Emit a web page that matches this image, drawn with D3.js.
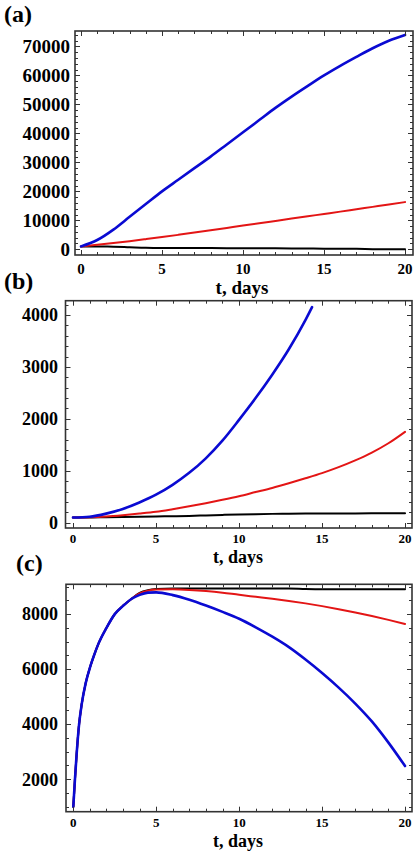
<!DOCTYPE html>
<html><head><meta charset="utf-8">
<script src="https://cdn.jsdelivr.net/npm/d3@7"></script>
<style>
html,body{margin:0;padding:0;background:#fff;}
svg text{font-family:"Liberation Serif","Times New Roman",serif;font-weight:bold;fill:#000;}
</style></head>
<body>
<svg id="chart" width="417" height="853"></svg>
<script>
// ---------- data ----------
const xTicks = [0, 5, 10, 15, 20];

const tA = [0,1,2,3,4,5,6,7,8,9,10,11,12,13,14,15,16,17,18,19,20];
const blueA = [1000,3200,6800,11200,15600,20000,24000,28000,32000,36200,40400,44600,48800,52700,56400,60000,63300,66400,69400,72000,74000];
const redA = [1000,1550,2150,2800,3500,4220,4980,5760,6560,7370,8180,9000,9800,10600,11400,12200,13000,13820,14640,15460,16300];
const blackA = [1000,950,900,700,500,450,450,450,420,400,380,350,330,300,250,200,180,150,50,0,0];
const yTicksA = [0,10000,20000,30000,40000,50000,60000,70000];

const tB = [0,1,2,3,4,5,6,7,8,9,10,11,12,13,14,15,16,17,18,19,20];
const tBlueB = [0,1,2,3,4,5,6,7,8,9,10,11,12,13,14,14.4];
const blueB = [100,115,175,265,390,540,730,960,1240,1580,1980,2400,2850,3340,3900,4150];
const redB = [100,105,120,145,175,210,260,315,375,440,510,590,670,760,855,955,1070,1200,1350,1530,1750];
const blackB = [100,100,105,110,115,120,125,130,140,150,160,165,170,172,175,177,178,179,180,180,180];
const yTicksB = [0,1000,2000,3000,4000];

const tC = [0,0.1,0.2,0.35,0.5,0.75,1,1.25,1.5,2,2.5,3,3.5,4,4.5,5,6,7,8,9,10,11,12,13,14,15,16,17,18,19,20];
const blueC = [1000,2000,2900,4000,4700,5500,6050,6500,6900,7500,8000,8300,8550,8700,8780,8790,8690,8520,8310,8080,7830,7520,7180,6800,6350,5860,5330,4750,4100,3330,2480];
const redC = [1000,2000,2900,4000,4700,5500,6050,6500,6900,7500,8000,8300,8550,8750,8850,8890,8900,8880,8840,8780,8700,8630,8560,8480,8390,8290,8180,8060,7930,7790,7640];
const blackC = [1000,2000,2900,4000,4700,5500,6050,6500,6900,7500,8000,8300,8550,8770,8870,8910,8930,8930,8930,8930,8930,8930,8930,8930,8910,8900,8900,8900,8900,8900,8900];
const yTicksC = [2000,4000,6000,8000];

const panelLabels = ["(a)", "(b)", "(c)"];
const xTitle = "t, days";

// ---------- drawing ----------
const svg = d3.select("#chart");
const BLUE = "#0a0ad2", RED = "#e31515", BLACK = "#000";

function panel(cfg) {
  const x = d3.scaleLinear().domain(cfg.xd).range([cfg.x0, cfg.x1]);
  const y = d3.scaleLinear().domain(cfg.yd).range([cfg.y1, cfg.y0]);
  const g = svg.append("g");
  const id = "clip" + cfg.key;
  svg.append("clipPath").attr("id", id).append("rect")
    .attr("x", cfg.x0).attr("y", cfg.y0).attr("width", cfg.x1 - cfg.x0).attr("height", cfg.y1 - cfg.y0);

  const line = d3.line().x(d => x(d[0])).y(d => y(d[1])).curve(d3.curveMonotoneX);
  const lg = g.append("g").attr("clip-path", `url(#${id})`);
  cfg.series.forEach(s => {
    lg.append("path").datum(s.t.map((t, i) => [t, s.v[i]]))
      .attr("d", line).attr("fill", "none").attr("stroke", s.c)
      .attr("stroke-width", s.w).attr("stroke-linejoin", "round").attr("stroke-linecap", "round");
  });

  // ticks (inside, all four sides)
  const tk = g.append("g").attr("stroke", "#333").attr("stroke-width", 1);
  const xMinor = d3.range(Math.ceil(cfg.xd[0]), Math.floor(cfg.xd[1]) + 1);
  xMinor.forEach(v => {
    const len = v % 5 === 0 ? 5 : 3;
    const px = Math.round(x(v)) + 0.5;
    tk.append("line").attr("x1", px).attr("x2", px).attr("y1", cfg.y1).attr("y2", cfg.y1 - len);
    tk.append("line").attr("x1", px).attr("x2", px).attr("y1", cfg.y0).attr("y2", cfg.y0 + len);
  });
  const yMinor = d3.range(Math.ceil(cfg.yd[0] / cfg.yMinor) * cfg.yMinor, cfg.yd[1], cfg.yMinor);
  yMinor.forEach(v => {
    const major = cfg.yt.includes(v) || Math.abs(v % cfg.yMajor) < 1e-6;
    const len = major ? 5 : 3;
    const py = Math.round(y(v)) + 0.5;
    tk.append("line").attr("y1", py).attr("y2", py).attr("x1", cfg.x0).attr("x2", cfg.x0 + len);
    tk.append("line").attr("y1", py).attr("y2", py).attr("x1", cfg.x1).attr("x2", cfg.x1 - len);
  });

  g.append("rect").attr("x", cfg.x0).attr("y", cfg.y0)
    .attr("width", cfg.x1 - cfg.x0).attr("height", cfg.y1 - cfg.y0)
    .attr("fill", "none").attr("stroke", "#333").attr("stroke-width", 1.6);

  // y labels
  g.selectAll(null).data(cfg.yt).join("text")
    .attr("x", cfg.yLabX).attr("y", d => y(d)).attr("dy", "0.35em")
    .attr("text-anchor", "end").style("font-size", cfg.yFont + "px").text(d => d);
  // x labels
  g.selectAll(null).data(xTicks).join("text")
    .attr("x", d => x(d)).attr("y", cfg.xLabY)
    .attr("text-anchor", "middle").style("font-size", cfg.xFont + "px").text(d => d);
  g.append("text").attr("x", cfg.titleX).attr("y", cfg.titleY)
    .attr("text-anchor", "middle").style("font-size", cfg.titleFont + "px").text(xTitle);
  g.append("text").attr("x", cfg.labX).attr("y", cfg.labY)
    .style("font-size", "24px").text(cfg.label);
}

panel({
  key: "a", label: panelLabels[0], labX: 4, labY: 22,
  x0: 75, x1: 413, y0: 31, y1: 255,
  xd: [-0.37, 20.49], yd: [-1970, 75350],
  yt: yTicksA, yMinor: 2000, yMajor: 10000, yLabX: 70, yFont: 19,
  xLabY: 274, xFont: 15, titleX: 242, titleY: 294, titleFont: 19,
  series: [{t: tA, v: blackA, c: BLACK, w: 2}, {t: tA, v: redA, c: RED, w: 2}, {t: tA, v: blueA, c: BLUE, w: 2.6}]
});
panel({
  key: "b", label: panelLabels[1], labX: 4, labY: 289,
  x0: 65.5, x1: 412, y0: 300.7, y1: 528,
  xd: [-0.45, 20.42], yd: [-102, 4275],
  yt: yTicksB, yMinor: 200, yMajor: 1000, yLabX: 58, yFont: 18,
  xLabY: 543, xFont: 13, titleX: 238, titleY: 563, titleFont: 18,
  series: [{t: tB, v: blackB, c: BLACK, w: 2}, {t: tB, v: redB, c: RED, w: 2}, {t: tBlueB, v: blueB, c: BLUE, w: 2.6}]
});
panel({
  key: "c", label: panelLabels[2], labX: 16, labY: 571,
  x0: 66, x1: 412, y0: 584.3, y1: 811.7,
  xd: [-0.44, 20.42], yd: [820, 9083],
  yt: yTicksC, yMinor: 500, yMajor: 2000, yLabX: 58, yFont: 18,
  xLabY: 827, xFont: 13, titleX: 238, titleY: 847, titleFont: 18,
  series: [{t: tC, v: blackC, c: BLACK, w: 2}, {t: tC, v: redC, c: RED, w: 2}, {t: tC, v: blueC, c: BLUE, w: 2.6}]
});
</script>
</body></html>
